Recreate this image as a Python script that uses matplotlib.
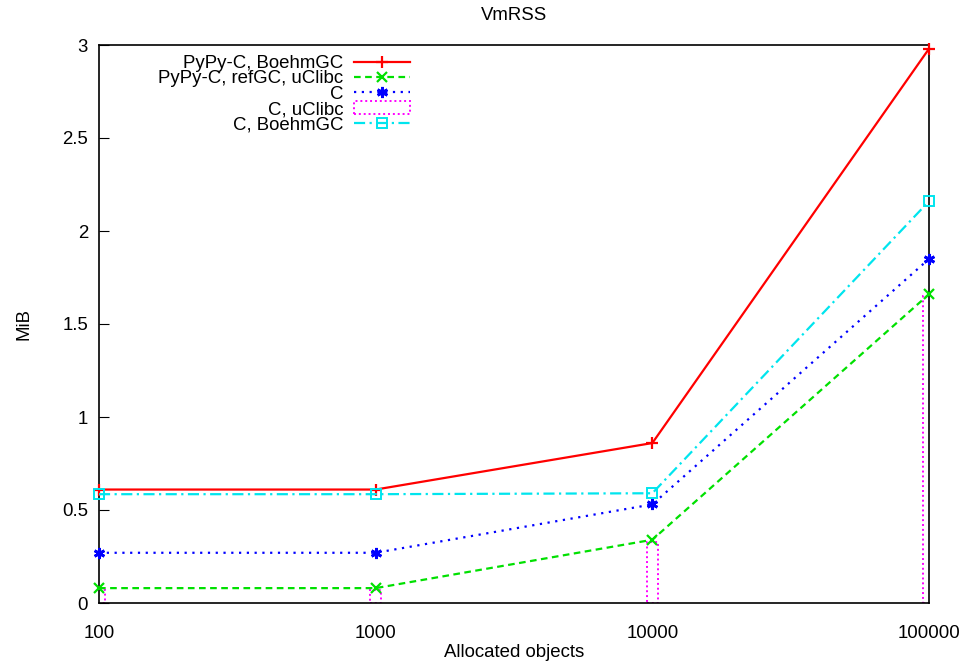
import numpy as np
import matplotlib.pyplot as plt
from matplotlib.patches import Rectangle, Patch
from matplotlib.ticker import FixedLocator, FixedFormatter

plt.rcParams['font.family'] = ['Liberation Sans', 'DejaVu Sans']

objects = [100, 1000, 10000, 100000]
pypy_boehm = [0.61, 0.61, 0.86, 2.98]
pypy_refgc_uclibc = [0.08, 0.08, 0.34, 1.66]
c_plain = [0.27, 0.27, 0.53, 1.85]
c_uclibc = [0.07, 0.07, 0.33, 1.65]
c_boehm = [0.585, 0.585, 0.59, 2.16]

yticks = [0, 0.5, 1, 1.5, 2, 2.5, 3]
ytick_labels = ['0', '0.5', '1', '1.5', '2', '2.5', '3']

fs = 13.4
fig = plt.figure(figsize=(9.61, 6.61), dpi=100)
ax = fig.add_axes([99 / 961, 58 / 661, 830 / 961, 558 / 661])

ax.plot(objects, pypy_boehm, color='#ff0000', lw=1.6, marker='+', ms=8, mew=1.6,
        label='PyPy-C, BoehmGC', clip_on=False, zorder=3)
ax.plot(objects, pypy_refgc_uclibc, color='#00e000', lw=1.6, ls=(0, (3, 2)), marker='x', ms=7, mew=1.6,
        label='PyPy-C, refGC, uClibc', clip_on=False, zorder=3)
ax.plot(objects, c_plain, color='#0000ff', lw=1.6, ls=(0, (1, 2.5)), marker=(6, 2, 0), ms=8, mew=2,
        label='C', clip_on=False, zorder=3)

# C, uClibc drawn as narrow dotted boxes (log-width)
half = 0.02
for x, v in zip(objects, c_uclibc):
    left = x * 10 ** (-half)
    right = x * 10 ** half
    ax.add_patch(Rectangle((left, 0), right - left, v, fill=False, edgecolor='#ff00ff',
                           lw=1.4, ls=(0, (1, 1.5)), zorder=2))
box_handle = Patch(facecolor='none', edgecolor='#ff00ff', lw=1.4, ls=(0, (1, 1.5)), label='C, uClibc')

ax.plot(objects, c_boehm, color='#00e5ee', lw=1.6, ls=(0, (5, 2, 1, 2)), marker='s', ms=7, mew=1.4,
        mfc='none', label='C, BoehmGC', clip_on=False, zorder=3)

ax.set_xscale('log')
ax.set_xlim(100, 100000)
ax.set_ylim(0, 3)
ax.xaxis.set_major_locator(FixedLocator(objects))
ax.xaxis.set_major_formatter(FixedFormatter([str(o) for o in objects]))
ax.xaxis.set_minor_locator(FixedLocator([]))
ax.tick_params(axis='x', length=0, labelsize=fs, pad=16)
ax.set_yticks(yticks)
ax.set_yticklabels(ytick_labels)
ax.tick_params(axis='y', direction='in', length=7, labelsize=fs, pad=8)

for s in ax.spines.values():
    s.set_linewidth(1.2)

ax.set_title('VmRSS', fontsize=fs, pad=18)
ax.set_xlabel('Allocated objects', fontsize=fs, labelpad=1)
ax.set_ylabel('MiB', fontsize=fs, labelpad=21)

handles, labels = ax.get_legend_handles_labels()
handles.insert(3, box_handle)
labels.insert(3, 'C, uClibc')
ax.legend(handles, labels, loc='upper right', bbox_to_anchor=(0.375, 0.982), frameon=False,
          markerfirst=False, fontsize=fs, handlelength=3.0, labelspacing=-0.09,
          handletextpad=0.6, borderaxespad=0, borderpad=0)

fig.savefig('out.png', dpi=100)
